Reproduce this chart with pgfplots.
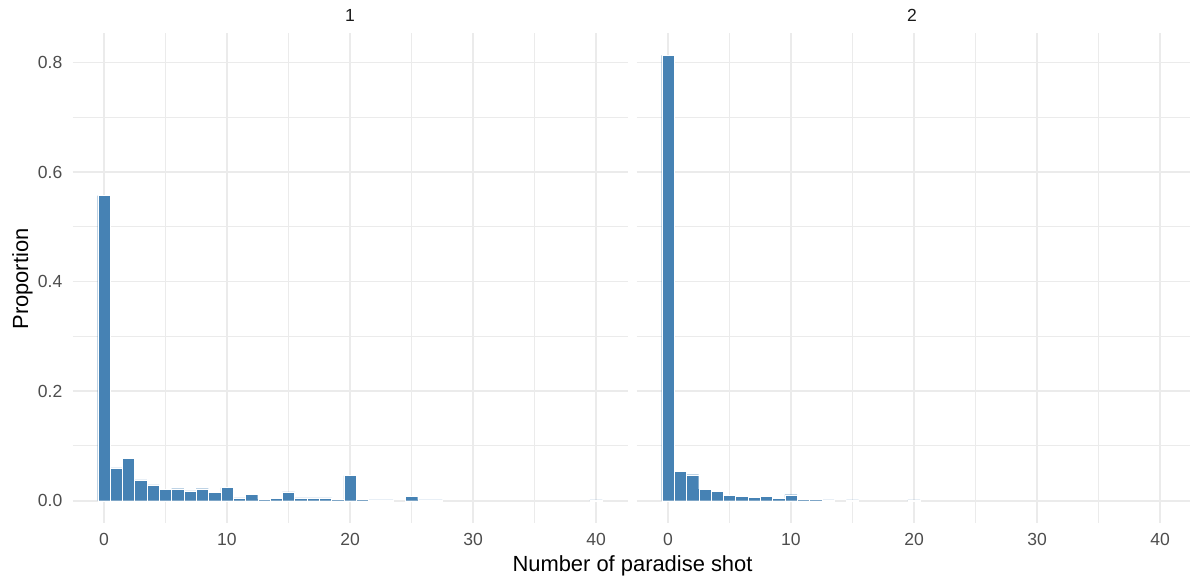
\documentclass[border=0pt]{standalone}
\usepackage{pgfplots}
\pgfplotsset{compat=1.18}
\usepackage{fontspec}
\setmainfont{Liberation Sans}
\definecolor{steel}{HTML}{4682B4}
\definecolor{gridc}{HTML}{EBEBEB}
\definecolor{ticktext}{HTML}{4D4D4D}
\definecolor{striptext}{HTML}{1A1A1A}
\pgfplotsset{panel/.style={
  scale only axis, width=555bp, height=490bp, anchor=south west,
  xmin=-2.55, xmax=42.55, ymin=-0.0407, ymax=0.854,
  axis line style={draw=none}, major tick length=0pt, minor tick length=0pt,
  xtick={0,10,20,30,40}, minor xtick={5,15,25,35},
  ytick={0,0.2,0.4,0.6,0.8}, minor ytick={0.1,0.3,0.5,0.7},
  xmajorgrids, ymajorgrids, xminorgrids, yminorgrids,
  major grid style={draw=gridc, line width=1.7bp},
  minor grid style={draw=gridc, line width=1.1bp},
  /pgf/number format/assume math mode=true,
  tick label style={font=\fontsize{17.6}{20}\selectfont, text=ticktext, inner sep=0pt},
  xticklabel style={anchor=north, yshift=-9.7bp},
  yticklabel style={anchor=east, xshift=-10bp, /pgf/number format/.cd, fixed, fixed zerofill, precision=1},
  scaled y ticks=false,
  clip=false,
}}
\begin{document}
\begin{tikzpicture}
\path[use as bounding box] (0,0) rectangle (1190bp,578bp);
\begin{axis}[panel, at={(72.5bp,55bp)}]
\addplot[ybar, bar width=1, bar shift=0pt, fill=steel, draw=white, line width=0.3bp] coordinates {
(0,0.557) (1,0.060) (2,0.077) (3,0.038) (4,0.029) (5,0.021) (6,0.022) (7,0.018)
(8,0.022) (9,0.015) (10,0.024) (11,0.005) (12,0.012) (13,0.0025) (14,0.004)
(15,0.016) (16,0.005) (17,0.005) (18,0.005) (19,0.002) (20,0.046) (21,0.002)
(22,0.0015) (23,0.0015) (25,0.008) (26,0.0015) (27,0.0015) (40,0.0015)};
\end{axis}
\begin{axis}[panel, at={(636.5bp,55bp)}, yticklabels={}]
\addplot[ybar, bar width=1, bar shift=0pt, fill=steel, draw=white, line width=0.3bp] coordinates {
(0,0.813) (1,0.054) (2,0.0475) (3,0.021) (4,0.017) (5,0.010) (6,0.008) (7,0.006)
(8,0.008) (9,0.004) (10,0.011) (11,0.002) (12,0.002) (13,0.0015) (15,0.0015) (20,0.0015)};
\end{axis}
\node[anchor=base, font=\fontsize{17.6}{20}\selectfont, text=striptext] at (350bp,556.3bp) {1};
\node[anchor=base, font=\fontsize{17.6}{20}\selectfont, text=striptext] at (912bp,556.3bp) {2};
\node[anchor=base, font=\fontsize{22}{26}\selectfont] at (632.5bp,6.3bp) {Number of paradise shot};
\node[anchor=base, rotate=90, font=\fontsize{22}{26}\selectfont] at (28bp,299bp) {Proportion};
\end{tikzpicture}
\end{document}
